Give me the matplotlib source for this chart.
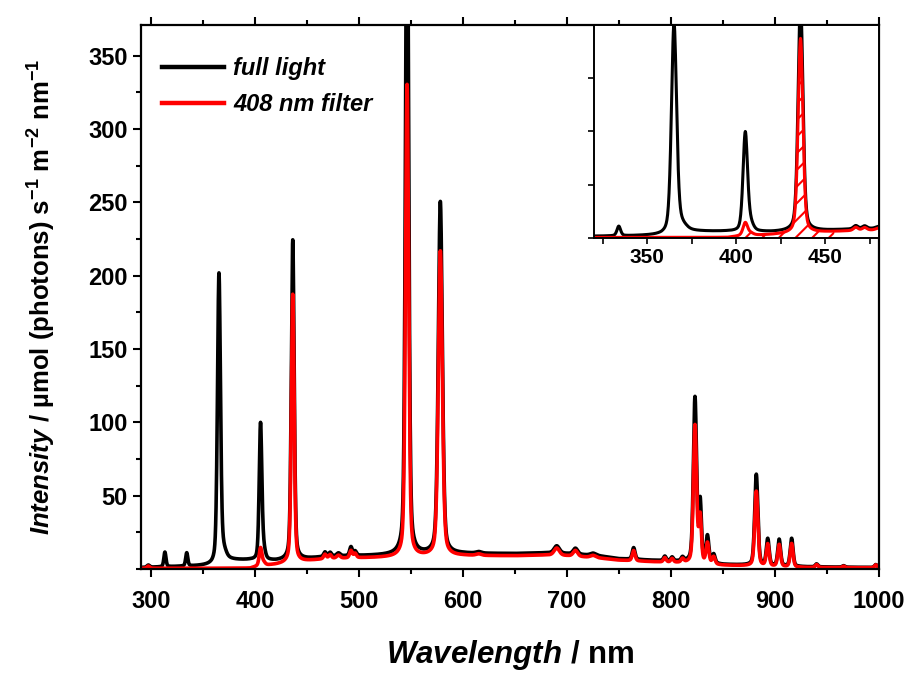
import numpy as np
import matplotlib
matplotlib.use('Agg')
import matplotlib.pyplot as plt
from matplotlib.ticker import MultipleLocator, NullFormatter

plt.rcParams['font.family'] = ['Liberation Sans', 'DejaVu Sans']
plt.rcParams['font.weight'] = 'bold'
plt.rcParams['mathtext.fontset'] = 'custom'
plt.rcParams['mathtext.rm'] = 'Liberation Sans:bold'
plt.rcParams['mathtext.it'] = 'Liberation Sans:italic:bold'
plt.rcParams['mathtext.bf'] = 'Liberation Sans:bold'
plt.rcParams['hatch.linewidth'] = 1.5

# emission lines: centre (nm), height full light,
# height with the 408 nm filter, half width (nm)
line_nm = [297, 313, 334, 365, 369, 405, 408, 436, 467, 472, 480, 492, 496,
           546, 578, 615, 690, 708, 725, 764, 794, 801, 811,
           823, 828, 835, 841, 882, 893, 904, 916, 940, 966, 997]
line_full = [1.5, 10, 9, 196, 5, 93, 6, 218, 3, 2.5, 2, 6, 3,
             480, 240, 1, 5, 4, 1.5, 8, 3, 2.5, 2.5,
             112, 40, 18, 6, 62, 18, 18, 19, 2, 1, 2]
line_filt = [1.5, 0, 0, 0, 0, 12, 2, 183, 3, 2.5, 2, 5, 3,
             322, 208, 1, 5, 4, 1.5, 7, 3, 2.5, 2.5,
             94, 31, 14, 5, 51, 15, 15, 16, 2, 1, 2]
line_hw = [1.5, 1.2, 1.2, 1.7, 3.0, 1.5, 1.8, 1.6, 1.5, 1.5, 2, 1.5, 1.5,
           1.8, 2.3, 3, 3, 2.5, 3, 1.6, 1.5, 1.5, 1.5,
           1.8, 1.4, 1.6, 1.6, 1.8, 1.6, 1.6, 1.6, 1.5, 1.5, 1.5]

# continuum under the lines
cont_nm = [290, 340, 358, 372, 395, 403, 420, 450, 470, 500, 540, 600, 650,
           680, 700, 730, 750, 780, 815, 850, 880, 930, 1000]
cont_full = [1.0, 2.0, 2.5, 6, 6, 5.5, 5.5, 7, 8.5, 9, 9.5, 10.5, 10.5,
             11, 10.5, 9, 7, 6, 5, 3, 2.5, 1.5, 1]
cont_filt = [0.5, 0.5, 0.5, 0.5, 0.5, 2, 3, 5.5, 7, 7.5, 8, 9, 9,
             9.5, 9, 7.5, 6, 5, 4, 2.5, 2, 1, 0.8]


def spectrum(wl, heights, cont):
    y = np.interp(wl, cont_nm, cont)
    for c, h, w in zip(line_nm, heights, line_hw):
        d = (wl - c) / w
        y = y + h * (0.35 / (1 + d ** 2) + 0.65 * np.exp(-np.log(2) * d ** 2))
    return y


wl = np.arange(290, 1000.01, 0.2)
full = spectrum(wl, line_full, cont_full)
filt = spectrum(wl, line_filt, cont_filt)

fig = plt.figure(figsize=(9.08, 6.73), dpi=100)
ax = fig.add_axes([0.1553, 0.1545, 0.8127, 0.8084])

ax.plot(wl, full, color='black', lw=2.6, label='full light')
ax.plot(wl, filt, color='red', lw=2.6, label='408 nm filter')

ax.set_xlim(290, 1000)
ax.set_ylim(0, 371)
ax.xaxis.set_major_locator(MultipleLocator(100))
ax.xaxis.set_minor_locator(MultipleLocator(50))
ax.set_yticks([50, 100, 150, 200, 250, 300, 350])
ax.yaxis.set_minor_locator(MultipleLocator(25))
ax.tick_params(which='both', direction='out', width=1.5, labelsize=17,
               top=True, right=False)
ax.tick_params(which='major', length=6)
ax.tick_params(which='minor', length=3.5)
ax.tick_params(axis='x', which='major', pad=9)
for s in ax.spines.values():
    s.set_linewidth(1.6)

ax.set_xlabel(r'$\mathit{Wavelength}$ / nm', fontsize=22.5, fontweight='bold', labelpad=18)
ax.set_ylabel(r'$\mathit{Intensity}$ / µmol (photons) s$^{-1}$ m$^{-2}$ nm$^{-1}$',
              fontsize=18.5, fontweight='bold', labelpad=22)

leg = ax.legend(loc='upper left', bbox_to_anchor=(0.0, 0.98), frameon=False,
                handlelength=2.6, handletextpad=0.4, labelspacing=0.55,
                prop={'size': 17, 'weight': 'bold', 'style': 'italic'})
for line in leg.get_lines():
    line.set_linewidth(3.2)

# inset
axin = fig.add_axes([0.654, 0.6464, 0.314, 0.3165])
axin.plot(wl, full, color='black', lw=2.2)
axin.plot(wl, filt, color='red', lw=2.2)
sel = (wl >= 401) & (wl <= 455)
axin.fill_between(wl[sel], 0, filt[sel], facecolor='none', edgecolor='red',
                  hatch='//', linewidth=0)
axin.set_xlim(320, 480)
axin.set_ylim(0, 200)
axin.xaxis.set_major_locator(MultipleLocator(50))
axin.xaxis.set_minor_locator(MultipleLocator(25))
axin.yaxis.set_major_locator(MultipleLocator(50))
axin.yaxis.set_major_formatter(NullFormatter())
axin.tick_params(which='both', direction='out', width=1.2, labelsize=15)
axin.tick_params(which='major', length=4)
axin.tick_params(which='minor', length=4)
for s in axin.spines.values():
    s.set_linewidth(1.4)

fig.savefig('out.png', dpi=100)
